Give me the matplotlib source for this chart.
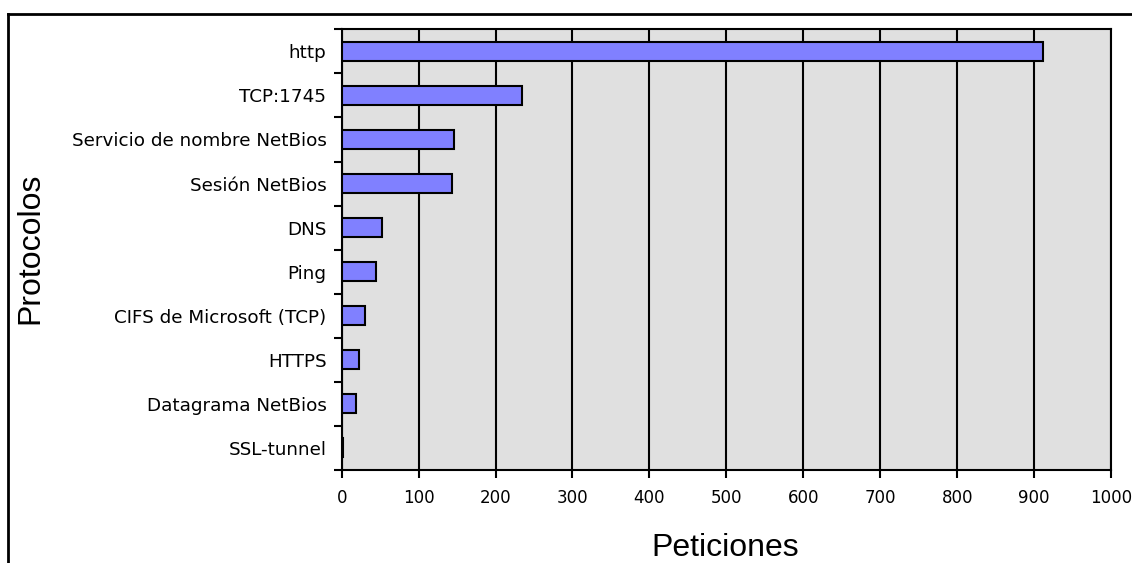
import matplotlib
matplotlib.use("Agg")
import matplotlib.pyplot as plt
from matplotlib.lines import Line2D
import numpy as np

categories = ["http", "TCP:1745", "Servicio de nombre NetBios", "Sesión NetBios",
              "DNS", "Ping", "CIFS de Microsoft (TCP)", "HTTPS",
              "Datagrama NetBios", "SSL-tunnel"]
values = [912, 234, 146, 144, 53, 45, 30, 22, 19, 2]
xticks = [0, 100, 200, 300, 400, 500, 600, 700, 800, 900, 1000]

plt.rcParams['font.family'] = ['DejaVu Sans']

W, H = 1132, 563
fig = plt.figure(figsize=(W / 100, H / 100), dpi=100)
ax = fig.add_axes([341.7 / W, 1 - 470 / H, (1111 - 341.7) / W, (470 - 29.3) / H])
ax.set_facecolor('#E0E0E0')

n = len(categories)
pos = np.arange(n)
ax.barh(pos, values, height=0.43, color='#8080FF', edgecolor='black', linewidth=1.5, zorder=3)
ax.set_ylim(n - 0.5, -0.5)
ax.set_xlim(0, 1000)

ax.set_xticks(xticks)
ax.set_xticklabels([str(t) for t in xticks], fontsize=12)
ax.set_yticks(pos)
ax.set_yticklabels(categories, fontsize=13.2)
ax.set_yticks(np.arange(n + 1) - 0.5, minor=True)
ax.tick_params(axis='y', which='major', length=0, pad=11)
ax.tick_params(axis='y', which='minor', length=6, width=1.5, color='black')
ax.tick_params(axis='x', which='major', length=6, width=1.5, pad=8)

ax.grid(axis='x', color='black', linewidth=1.5, zorder=1)
ax.set_axisbelow(True)
for s in ax.spines.values():
    s.set_color('black')
    s.set_linewidth(1.5)

lab_font = ['Liberation Sans', 'DejaVu Sans']
fig.text(30 / W, 1 - 248 / H, "Protocolos", rotation=90, fontsize=23,
         ha='center', va='center', family=lab_font)
fig.text(725 / W, 1 - 548 / H, "Peticiones", fontsize=23, ha='center', va='center',
         family=lab_font)

fig.add_artist(Line2D([8 / W, 1], [1 - 14 / H, 1 - 14 / H], color='black', linewidth=2,
                      transform=fig.transFigure))
fig.add_artist(Line2D([8 / W, 8 / W], [0, 1 - 14 / H], color='black', linewidth=2,
                      transform=fig.transFigure))

fig.savefig("out.png", dpi=100)
